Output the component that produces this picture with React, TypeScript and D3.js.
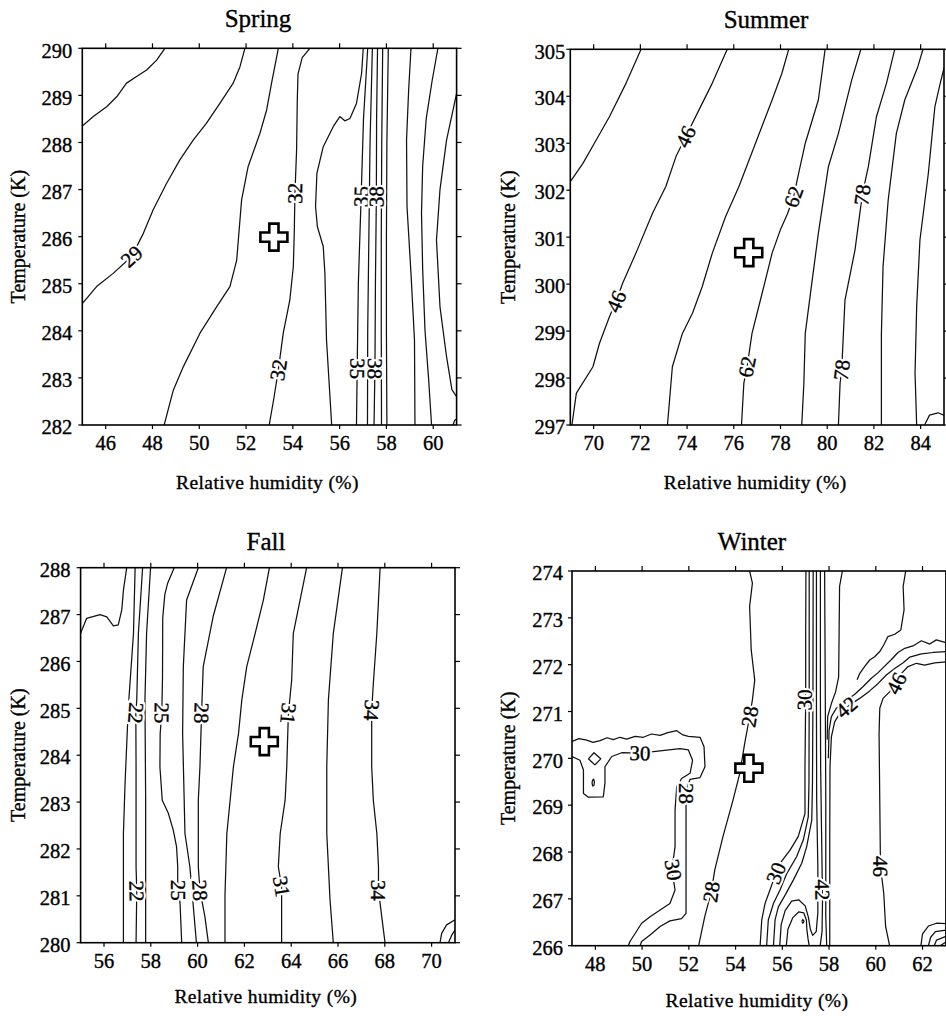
import React from 'react';
import * as d3 from 'd3';

type Pt = [number, number];
type Lbl = { text: string; at: Pt; dir?: 'u' | 'd' };

// ---------- Spring ----------
const springXTicks = [46, 48, 50, 52, 54, 56, 58, 60];
const springYTicks = [282, 283, 284, 285, 286, 287, 288, 289, 290];
const springLines: Pt[][] = [
  [[45, 288.35], [45.47, 288.55], [46.04, 288.76], [46.47, 288.97], [46.89, 289.26], [47.32, 289.4], [47.75, 289.54], [48.18, 289.75], [48.53, 290]],
  [[45, 284.58], [45.61, 284.94], [46.32, 285.22], [47.11, 285.58], [47.61, 286.07], [48.03, 286.57], [48.6, 287.13], [49.17, 287.63], [49.74, 288.05], [50.31, 288.41], [50.88, 288.83], [51.45, 289.26], [51.74, 289.61], [51.95, 290]],
  [[48.5, 282], [48.89, 282.74], [49.32, 283.24], [50.03, 283.95], [50.74, 284.51], [51.31, 284.94], [51.6, 285.5], [51.67, 285.93], [51.81, 286.78], [52.09, 287.49], [52.59, 288.19], [52.88, 288.69], [53.09, 289.26], [53.38, 290]],
  [[52.99, 282], [53.2, 282.6], [53.38, 283.17], [53.59, 283.95], [53.87, 284.65], [54.02, 285.36], [54.06, 286.07], [54.09, 286.92], [54.16, 287.84], [54.19, 288.9], [54.22, 289.45], [54.4, 289.8], [54.73, 290]],
  [[55.66, 282], [55.44, 283.8], [55.37, 285.22], [55.3, 285.79], [55.05, 286.21], [54.97, 286.64], [55.03, 287.35], [55.3, 287.91], [55.73, 288.34], [56.01, 288.55], [56.22, 288.46], [56.44, 288.51], [56.72, 288.83], [56.94, 289.47], [57.01, 290]],
  [[56.72, 282], [56.75, 283.2], [56.8, 285], [56.92, 286.85], [57.02, 288.5], [57.2, 290]],
  [[57.19, 282], [57.2, 284], [57.25, 286], [57.3, 288], [57.4, 290]],
  [[57.47, 282], [57.51, 283.2], [57.53, 285], [57.57, 286.85], [57.58, 288.5], [57.62, 290]],
  [[57.79, 282], [57.78, 284], [57.78, 286], [57.8, 288], [57.84, 290]],
  [[58.02, 282], [58.0, 284], [58.0, 286], [58.02, 288], [58.08, 290]],
  [[59.22, 282], [59.2, 283.8], [59.05, 285.22], [58.88, 286.64], [58.86, 288.05], [58.95, 289.11], [59.05, 290]],
  [[59.93, 282], [59.8, 283], [59.65, 284], [59.55, 285.3], [59.5, 286.5], [59.55, 287.5], [59.7, 288.5], [59.95, 289.3], [60.2, 290]],
  [[61, 289.04], [60.57, 288.05], [60.29, 287.0], [60.14, 285.93], [60.29, 284.51], [60.57, 283.45], [60.8, 282.75], [61, 282.6]],
  [[60.85, 282], [60.92, 282.1], [61, 282.13]],
];
const springLabels: Lbl[] = [
  { text: '29', at: [47.11, 285.58] },
  { text: '32', at: [54.09, 286.92], dir: 'u' },
  { text: '32', at: [53.38, 283.17], dir: 'u' },
  { text: '35', at: [56.92, 286.85], dir: 'u' },
  { text: '38', at: [57.57, 286.85], dir: 'u' },
  { text: '35', at: [56.76, 283.2], dir: 'd' },
  { text: '38', at: [57.51, 283.2], dir: 'd' },
];
const springMark: Pt = [53.19, 285.99];

// ---------- Summer ----------
const summerXTicks = [70, 72, 74, 76, 78, 80, 82, 84];
const summerYTicks = [297, 298, 299, 300, 301, 302, 303, 304, 305];
const summerLines: Pt[][] = [
  [[69, 302.18], [69.54, 302.57], [70.11, 303.07], [70.68, 303.57], [71.39, 304.28], [72.03, 305]],
  [[69.07, 297], [69.26, 297.68], [69.97, 298.24], [70.25, 298.74], [70.68, 299.31], [70.96, 299.63], [71.24, 300.02], [71.81, 300.66], [72.52, 301.51], [73.09, 302.08], [73.52, 302.71], [73.94, 303.14], [74.51, 303.71], [75.08, 304.28], [75.72, 305]],
  [[73.16, 297], [73.37, 298.24], [73.8, 298.95], [74.23, 299.38], [74.65, 299.95], [75.08, 300.66], [75.65, 301.44], [76.22, 302.08], [76.93, 303.0], [77.64, 303.92], [78.06, 304.49], [78.35, 305]],
  [[76.33, 297], [76.43, 297.89], [76.57, 298.24], [76.78, 298.95], [77.21, 299.8], [77.64, 300.66], [77.99, 301.15], [78.3, 301.5], [78.56, 301.86], [78.75, 302.3], [79.06, 303.0], [79.62, 303.92], [79.91, 305]],
  [[78.91, 297], [79.0, 297.89], [79.06, 298.95], [79.34, 300.02], [79.62, 301.08], [80.05, 302.5], [80.48, 303.21], [81.05, 304.35], [81.44, 305]],
  [[80.48, 297], [80.55, 297.89], [80.62, 298.17], [80.76, 299.66], [81.19, 300.73], [81.5, 301.9], [81.76, 302.5], [82.11, 303.57], [82.54, 304.28], [82.89, 305]],
  [[82.32, 297], [82.32, 298.95], [82.39, 300.37], [82.61, 301.79], [82.96, 303.21], [83.32, 303.92], [83.88, 304.63], [84.1, 305]],
  [[85, 304.6], [84.85, 304.3], [84.61, 303.78], [84.33, 302.36], [83.97, 300.94], [83.83, 299.52], [83.76, 298.1], [83.83, 297]],
  [[84.17, 297], [84.38, 297.21], [84.74, 297.26], [85, 297.21]],
];
const summerLabels: Lbl[] = [
  { text: '46', at: [73.94, 303.14] },
  { text: '46', at: [70.96, 299.63] },
  { text: '62', at: [78.56, 301.86] },
  { text: '62', at: [76.57, 298.24] },
  { text: '78', at: [81.5, 301.9] },
  { text: '78', at: [80.62, 298.17] },
];
const summerMark: Pt = [76.64, 300.67];

// ---------- Fall ----------
const fallXTicks = [56, 58, 60, 62, 64, 66, 68, 70];
const fallYTicks = [280, 281, 282, 283, 284, 285, 286, 287, 288];
const fallLines: Pt[][] = [
  [[55, 286.6], [55.26, 286.92], [55.83, 287.0], [56.12, 286.95], [56.4, 286.76], [56.61, 286.78], [56.76, 287.1], [56.83, 287.52], [56.97, 288]],
  [[57.33, 288], [57.26, 286.6], [57.04, 285.03], [56.9, 283.4], [56.83, 282.33], [56.83, 280]],
  [[57.65, 288], [57.47, 286.6], [57.4, 285.18], [57.36, 284.9], [57.37, 283.75], [57.37, 281.62], [57.4, 281.1], [57.37, 280]],
  [[57.99, 288], [57.82, 286.6], [57.75, 285.18], [57.78, 283.04], [57.78, 280]],
  [[59.0, 288], [58.72, 287.67], [58.6, 287.43], [58.51, 286.93], [58.5, 285.65], [58.47, 284.9], [58.4, 284.46], [58.39, 283.75], [58.49, 283.04], [58.75, 282.76], [58.96, 282.4], [59.1, 282.05], [59.15, 281.62], [59.15, 281.12], [59.25, 280.85], [59.32, 280]],
  [[60.03, 288], [59.53, 287.31], [59.39, 285.89], [59.36, 284.47], [59.46, 282.33], [59.67, 281.62], [59.95, 280]],
  [[61.24, 288], [60.67, 286.97], [60.24, 285.89], [60.17, 284.9], [60.1, 283.75], [60.03, 283.04], [60.03, 281.62], [60.1, 281.12], [60.31, 280.56], [60.46, 280]],
  [[63.07, 288], [62.81, 287.31], [62.46, 286.6], [62.1, 285.89], [61.89, 285.18], [61.75, 284.47], [61.53, 283.75], [61.39, 283.04], [61.25, 282.33], [61.17, 281.0], [61.17, 280]],
  [[64.66, 288], [64.09, 286.6], [64.02, 285.6], [63.88, 284.89], [63.81, 283.75], [63.74, 283.04], [63.53, 282.33], [63.45, 281.62], [63.59, 281.2], [63.59, 280]],
  [[66.19, 288], [65.8, 286.6], [65.59, 285.18], [65.52, 283.75], [65.52, 282.33], [65.66, 280.91], [65.8, 280]],
  [[67.8, 288], [67.66, 286.6], [67.51, 285.53], [67.44, 284.96], [67.44, 283.75], [67.51, 283.04], [67.66, 282.33], [67.73, 281.62], [67.73, 281.12], [67.87, 280.55], [68.01, 280]],
  [[70.36, 280], [70.43, 280.2], [70.64, 280.38], [71, 280.49]],
  [[70.72, 280], [70.86, 280.16], [71, 280.27]],
];
const fallLabels: Lbl[] = [
  { text: '22', at: [57.36, 284.9], dir: 'd' },
  { text: '25', at: [58.47, 284.9], dir: 'd' },
  { text: '28', at: [60.17, 284.9], dir: 'd' },
  { text: '31', at: [63.88, 284.89], dir: 'd' },
  { text: '34', at: [67.44, 284.96], dir: 'd' },
  { text: '22', at: [57.4, 281.1], dir: 'd' },
  { text: '25', at: [59.15, 281.12], dir: 'd' },
  { text: '28', at: [60.1, 281.12], dir: 'd' },
  { text: '31', at: [63.59, 281.2], dir: 'd' },
  { text: '34', at: [67.73, 281.12], dir: 'd' },
];
const fallMark: Pt = [62.85, 284.29];

// ---------- Winter ----------
const winterXTicks = [48, 50, 52, 54, 56, 58, 60, 62];
const winterYTicks = [266, 267, 268, 269, 270, 271, 272, 273, 274];
const winterLines: Pt[][] = [
  [[54.6, 274], [54.72, 273.74], [54.6, 273.24], [54.67, 272.31], [54.82, 271.67], [54.72, 271.25], [54.6, 270.89], [54.39, 270.32], [54.18, 269.68], [53.89, 269.11], [53.46, 268.33], [53.11, 267.62], [52.96, 267.15], [52.68, 266.62], [52.42, 266]],
  [[47, 270.36], [47.3, 270.42], [47.63, 270.39], [47.9, 270.34], [48.2, 270.38], [48.5, 270.44], [48.77, 270.4], [49.05, 270.45], [49.34, 270.41], [49.7, 270.47], [50.05, 270.45], [50.4, 270.52], [50.77, 270.49], [51.1, 270.55], [51.48, 270.59], [51.75, 270.5], [51.98, 270.47], [52.25, 270.46], [52.48, 270.45], [52.65, 270.25], [52.69, 269.82], [52.48, 269.59], [52.05, 269.55], [51.88, 269.32], [51.88, 268.75], [51.88, 267.83], [51.88, 266.69], [51.69, 266.58], [51.19, 266.53], [50.77, 266.41], [50.34, 266.23], [49.98, 266.09], [49.91, 266]],
  [[47, 270.04], [47.34, 269.96], [47.49, 269.75], [47.49, 269.25], [47.7, 269.17], [48.34, 269.18], [48.41, 269.47], [48.41, 269.82], [48.7, 270.04], [49.13, 270.12], [49.91, 270.11], [50.77, 270.16], [51.62, 270.21], [51.98, 270.18], [52.16, 269.96], [52.05, 269.68], [51.69, 269.57], [51.48, 269.39], [51.41, 268.9], [51.41, 268.11], [51.27, 267.62], [51.41, 267.19], [51.19, 266.9], [50.77, 266.76], [50.34, 266.62], [49.98, 266.48], [49.7, 266.26], [49.48, 266.09], [49.41, 266]],
  [[47.7, 269.99], [47.94, 270.12], [48.23, 269.99], [47.98, 269.86], [47.7, 269.99]],
  [[47.87, 269.52], [47.92, 269.56], [47.96, 269.5], [47.94, 269.42], [47.89, 269.41], [47.86, 269.46], [47.87, 269.52]],
  [[57.01, 274], [57.0, 272.67], [57.0, 271.25], [56.97, 269.82], [56.97, 268.82], [56.68, 268.33], [56.33, 268.04], [55.9, 267.76], [55.67, 267.47], [55.47, 267.19], [55.26, 266.9], [55.12, 266.55], [55.05, 266]],
  [[57.15, 274], [57.15, 271.25], [57.14, 269.47], [57.11, 268.75], [56.9, 268.26], [56.61, 267.9], [56.19, 267.54], [55.9, 267.19], [55.62, 266.9], [55.4, 266.55], [55.33, 266]],
  [[57.32, 274], [57.31, 271.25], [57.29, 269.47], [57.26, 268.68], [57.04, 268.11], [56.83, 267.76], [56.47, 267.4], [56.12, 267.08], [55.83, 266.83], [55.69, 266.55], [55.62, 266]],
  [[55.89, 266], [55.95, 266.45], [56.12, 266.75], [56.4, 266.95], [56.7, 266.98], [56.98, 266.85], [57.12, 266.6], [57.2, 266.35], [57.3, 266.22], [57.45, 266.3], [57.52, 266.7], [57.52, 267.69], [57.47, 269.11], [57.46, 271.25], [57.46, 274]],
  [[56.17, 266], [56.24, 266.35], [56.45, 266.6], [56.7, 266.72], [56.92, 266.7], [57.03, 266.55], [57.05, 266.35], [57.1, 266.15], [57.15, 266]],
  [[57.62, 266], [57.7, 266.3], [57.72, 266.98], [57.68, 268.4], [57.64, 269.82], [57.63, 271.25], [57.63, 274]],
  [[57.81, 274], [57.84, 271.25], [57.86, 269.11], [57.86, 267.69], [57.86, 266.62], [57.9, 266]],
  [[56.83, 266.52], [56.88, 266.56], [56.93, 266.52], [56.88, 266.48], [56.83, 266.52]],
  [[58.57, 274], [58.45, 273.67], [58.43, 272.67], [58.41, 271.74], [58.28, 271.42], [58.1, 271.17], [57.94, 270.89], [57.92, 270.4]],
  [[61.28, 274], [61.17, 273.67], [61.21, 273.17], [61.07, 272.74], [60.81, 272.65], [60.52, 272.6], [60.34, 272.42], [60.17, 272.28], [59.95, 272.17], [59.74, 272.1], [59.52, 271.96], [59.31, 271.81], [59.2, 271.68]],
  [[63, 272.47], [62.59, 272.53], [62.31, 272.44], [61.95, 272.51], [61.59, 272.4], [61.24, 272.35], [60.95, 272.26], [60.67, 272.11], [60.38, 271.97], [60.1, 271.83], [59.81, 271.71], [59.45, 271.53], [59.1, 271.37], [58.67, 271.21], [58.31, 271.07], [58.1, 270.89], [58.0, 270.6], [57.97, 270.0]],
  [[63, 272.28], [62.45, 272.26], [61.95, 272.23], [61.45, 272.16], [61.17, 272.04], [60.81, 271.92], [60.45, 271.78], [60.1, 271.6], [59.74, 271.44], [59.31, 271.28], [58.88, 271.14], [58.46, 270.96], [58.24, 270.78], [58.1, 270.46], [58.04, 269.82], [58.03, 268.4], [58.03, 266]],
  [[63, 272.06], [62.52, 272.04], [62.09, 271.99], [61.74, 272.03], [61.38, 271.96], [61.09, 271.81], [60.88, 271.6], [60.59, 271.42], [60.31, 271.28], [60.17, 271.07], [60.14, 270.53], [60.17, 269.11], [60.2, 267.69], [60.34, 267.12], [60.42, 266.41], [60.59, 266]],
  [[61.93, 266], [62.0, 266.25], [62.25, 266.42], [62.6, 266.48], [63, 266.47]],
  [[62.25, 266], [62.35, 266.18], [62.55, 266.3], [63, 266.33]],
  [[62.5, 266], [62.6, 266.12], [63, 266.2]],
  [[62.75, 266], [63, 266.08]],
];
const winterLabels: Lbl[] = [
  { text: '28', at: [54.6, 270.89] },
  { text: '28', at: [52.96, 267.15] },
  { text: '30', at: [49.91, 270.11] },
  { text: '28', at: [51.88, 269.25], dir: 'd' },
  { text: '30', at: [51.33, 267.62], dir: 'd' },
  { text: '30', at: [56.95, 271.25], dir: 'u' },
  { text: '30', at: [55.73, 267.55] },
  { text: '42', at: [58.74, 271.09] },
  { text: '46', at: [60.88, 271.6] },
  { text: '42', at: [57.71, 267.19], dir: 'd' },
  { text: '46', at: [60.2, 267.69], dir: 'd' },
];
const winterMark: Pt = [54.57, 269.79];

const FONT = '"Liberation Serif", "Times New Roman", Times, serif';

const panels = [
  { key: 'spring', title: 'Spring', xDomain: [45, 61], yDomain: [282, 290], xTicks: springXTicks, yTicks: springYTicks, lines: springLines, labels: springLabels, mark: springMark,
    box: { x0: 82.3, x1: 456.6, y0: 48.3, y1: 425 }, titleX: 258, titleY: 27, ylabX: 25, xlabY: 489, tickGap: 10 },
  { key: 'summer', title: 'Summer', xDomain: [69, 85], yDomain: [297, 305], xTicks: summerXTicks, yTicks: summerYTicks, lines: summerLines, labels: summerLabels, mark: summerMark,
    box: { x0: 570.3, x1: 944, y0: 49.3, y1: 425 }, titleX: 766, titleY: 28, ylabX: 515, xlabY: 489, tickGap: 5 },
  { key: 'fall', title: 'Fall', xDomain: [55, 71], yDomain: [280, 288], xTicks: fallXTicks, yTicks: fallYTicks, lines: fallLines, labels: fallLabels, mark: fallMark,
    box: { x0: 80.6, x1: 455, y0: 567.7, y1: 942.7 }, titleX: 266, titleY: 550, ylabX: 25, xlabY: 1003, tickGap: 10 },
  { key: 'winter', title: 'Winter', xDomain: [47, 63], yDomain: [266, 274], xTicks: winterXTicks, yTicks: winterYTicks, lines: winterLines, labels: winterLabels, mark: winterMark,
    box: { x0: 572, x1: 945.9, y0: 571, y1: 945.7 }, titleX: 752, titleY: 550, ylabX: 515, xlabY: 1007, tickGap: 9 },
];

function Panel({ p }: { p: any }) {
  const { box } = p;
  const x = d3.scaleLinear().domain(p.xDomain).range([box.x0, box.x1]);
  const y = d3.scaleLinear().domain(p.yDomain).range([box.y1, box.y0]);
  const line = d3.line<Pt>().x(d => x(d[0])).y(d => y(d[1]));
  const clipId = 'clip-' + p.key;

  // rotate each contour label along the nearest line segment
  const angleAt = (pt: Pt, dir?: string) => {
    const px = x(pt[0]), py = y(pt[1]);
    let best = Infinity, ang = 0;
    p.lines.forEach((l: Pt[]) => {
      for (let i = 0; i < l.length - 1; i++) {
        const ax = x(l[i][0]), ay = y(l[i][1]);
        const bx = x(l[i + 1][0]), by = y(l[i + 1][1]);
        const dx = bx - ax, dy = by - ay;
        const len2 = dx * dx + dy * dy || 1;
        let t = ((px - ax) * dx + (py - ay) * dy) / len2;
        t = Math.max(0, Math.min(1, t));
        const qx = ax + t * dx, qy = ay + t * dy;
        const d = (px - qx) ** 2 + (py - qy) ** 2;
        if (d < best) { best = d; ang = Math.atan2(dy, dx) * 180 / Math.PI; }
      }
    });
    if (ang > 90) ang -= 180;
    if (ang <= -90) ang += 180;
    if (dir === 'u' && ang > 0) ang -= 180;
    if (dir === 'd' && ang < 0) ang += 180;
    return ang;
  };

  const [mx, my] = [x(p.mark[0]), y(p.mark[1])];
  const s = 13.5, w = 4.6;
  const plus = `M${mx - w},${my - s}H${mx + w}V${my - w}H${mx + s}V${my + w}H${mx + w}V${my + s}H${mx - w}V${my + w}H${mx - s}V${my - w}H${mx - w}Z`;

  // scanned text looks a bit heavier than plain serif
  const ink = { stroke: '#000', strokeWidth: 0.35 };

  return (
    <g>
      <defs>
        <clipPath id={clipId}>
          <rect x={box.x0} y={box.y0} width={box.x1 - box.x0} height={box.y1 - box.y0} />
        </clipPath>
      </defs>
      <g clipPath={`url(#${clipId})`}>
        {p.lines.map((l: Pt[], i: number) => (
          <path key={i} d={line(l) || ''} fill="none" stroke="#111" strokeWidth={1.25} strokeLinejoin="round" />
        ))}
        {p.labels.map((lb: Lbl, i: number) => {
          const a = angleAt(lb.at, lb.dir);
          return (
            <g key={i} transform={`translate(${x(lb.at[0])},${y(lb.at[1])}) rotate(${a})`}>
              <text textAnchor="middle" dy="0.34em" fontSize={21} fontFamily={FONT}
                stroke="#fff" strokeWidth={4.5} fill="#fff">{lb.text}</text>
              <text textAnchor="middle" dy="0.34em" fontSize={21} fontFamily={FONT} fill="#000" {...ink}>{lb.text}</text>
            </g>
          );
        })}
      </g>
      <path d={plus} fill="#fff" stroke="#000" strokeWidth={2.6} strokeLinejoin="miter" />
      <rect x={box.x0} y={box.y0} width={box.x1 - box.x0} height={box.y1 - box.y0} fill="none" stroke="#000" strokeWidth={1.6} />
      {p.xTicks.map((v: number) => (
        <g key={'x' + v}>
          <line x1={x(v)} x2={x(v)} y1={box.y1} y2={box.y1 + 4} stroke="#000" strokeWidth={1.2} />
          <line x1={x(v)} x2={x(v)} y1={box.y0} y2={box.y0 - 5} stroke="#000" strokeWidth={1.2} />
          <text x={x(v)} y={box.y1 + 25} textAnchor="middle" fontSize={20.5} fontFamily={FONT} {...ink}>{v}</text>
        </g>
      ))}
      {p.yTicks.map((v: number) => (
        <g key={'y' + v}>
          <line x1={box.x0 - 4} x2={box.x0} y1={y(v)} y2={y(v)} stroke="#000" strokeWidth={1.2} />
          <line x1={box.x1} x2={box.x1 + 5} y1={y(v)} y2={y(v)} stroke="#000" strokeWidth={1.2} />
          <text x={box.x0 - p.tickGap} y={y(v)} dy="0.45em" textAnchor="end" fontSize={20.5} fontFamily={FONT} {...ink}>{v}</text>
        </g>
      ))}
      <text x={p.titleX} y={p.titleY} textAnchor="middle" fontSize={25} fontFamily={FONT} {...ink}>{p.title}</text>
      <text x={(box.x0 + box.x1) / 2 - 2} y={p.xlabY} textAnchor="middle" fontSize={19.5} fontFamily={FONT} letterSpacing={0.4} {...ink}>Relative humidity (%)</text>
      <text transform={`translate(${p.ylabX},${(box.y0 + box.y1) / 2}) rotate(-90)`} textAnchor="middle" fontSize={20} fontFamily={FONT} {...ink}>Temperature (K)</text>
    </g>
  );
}

export default function App() {
  return (
    <svg width={946} height={1016} style={{ position: 'absolute', left: 0, top: 0, background: '#fff' }}>
      {panels.map(p => <Panel key={p.key} p={p} />)}
    </svg>
  );
}
